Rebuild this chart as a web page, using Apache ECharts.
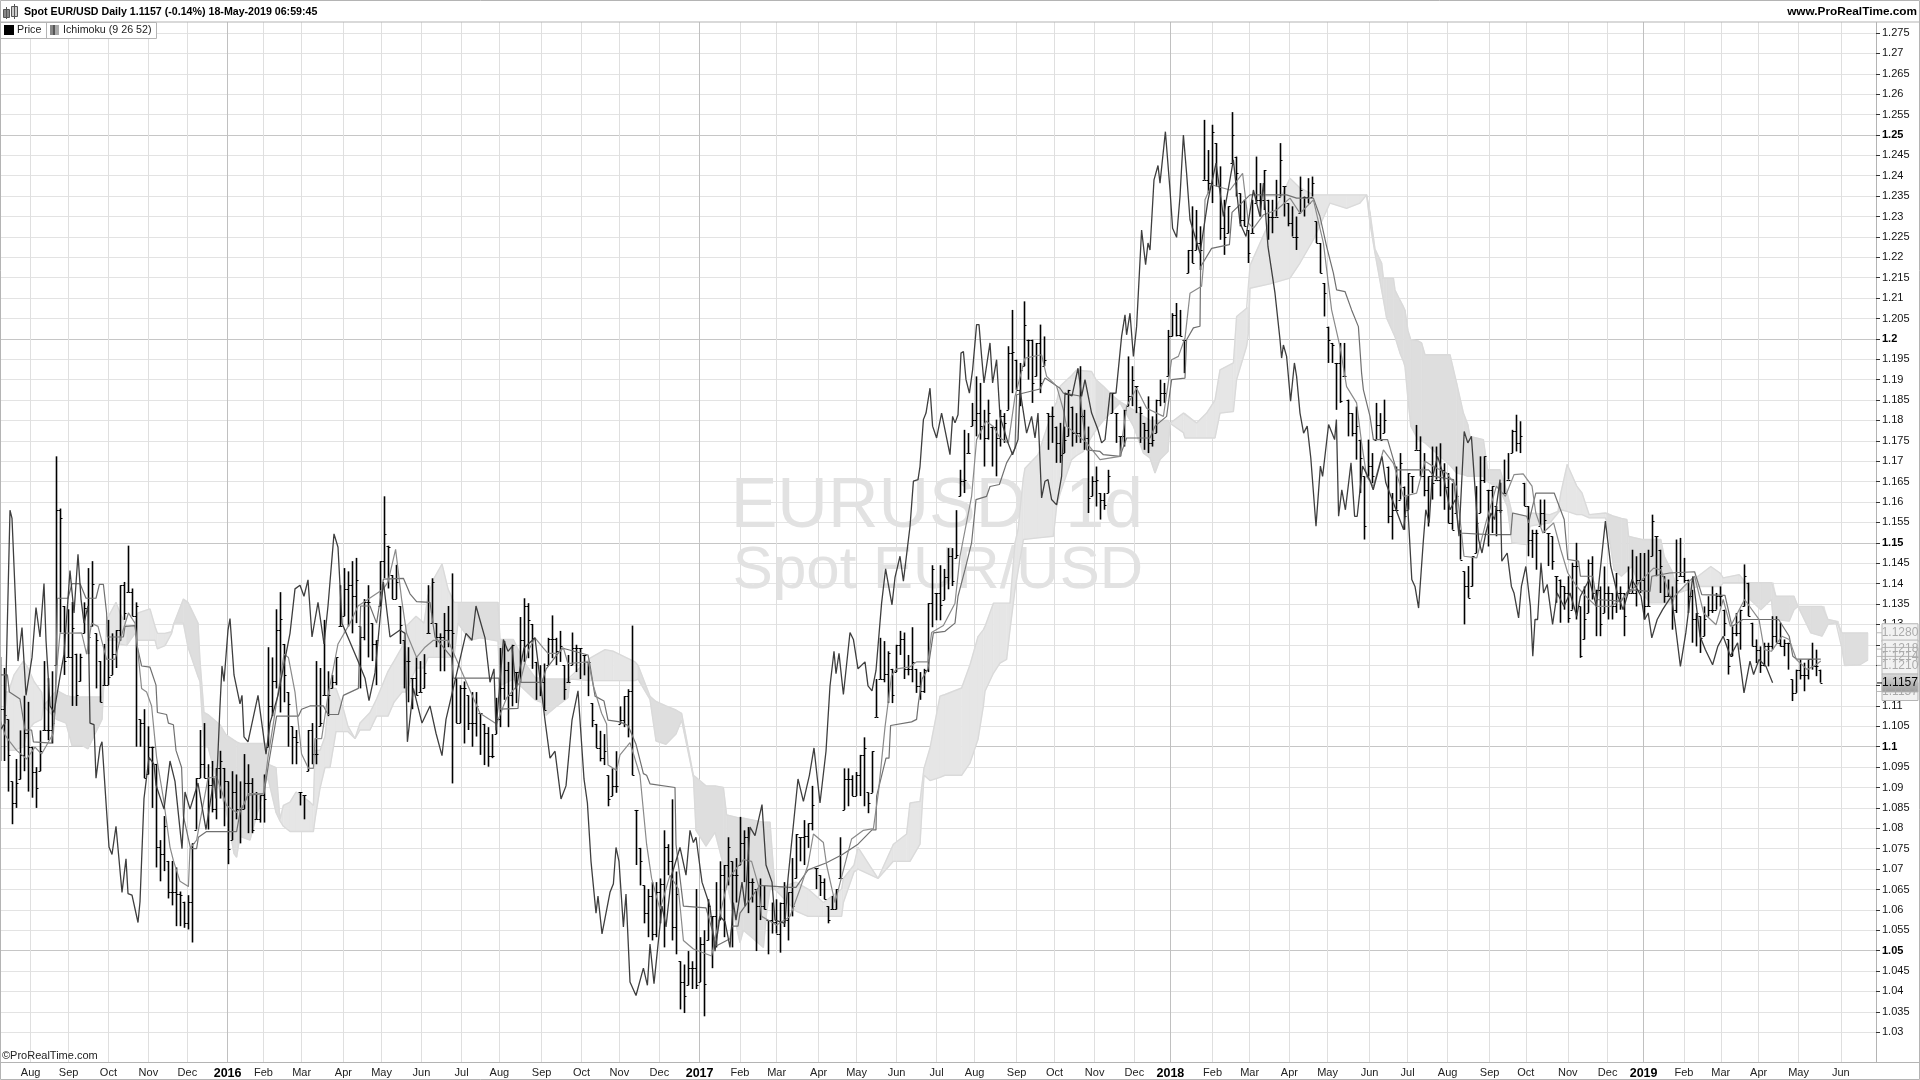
<!DOCTYPE html>
<html><head><meta charset="utf-8"><style>html,body{margin:0;padding:0;background:#fff}#c{width:1920px;height:1080px}</style>
<script src="https://cdn.jsdelivr.net/npm/echarts@6/dist/echarts.min.js"></script></head><body><div id="c"></div>
<script>
// Prices are in pips above 1.0000; x is the session number on the time axis.
const monthNames=['Aug','Sep','Oct','Nov','Dec','2016','Feb','Mar','Apr','May','Jun','Jul','Aug','Sep','Oct','Nov','Dec','2017','Feb','Mar','Apr','May','Jun','Jul','Aug','Sep','Oct','Nov','Dec','2018','Feb','Mar','Apr','May','Jun','Jul','Aug','Sep','Oct','Nov','Dec','2019','Feb','Mar','Apr','May','Jun'];
const monthSessions=[15.3,34.3,54.2,74.2,93.7,113.8,131.7,150.8,171.7,190.8,210.7,230.8,249.7,270.8,290.8,309.7,329.7,349.8,370,388.3,409.3,428.3,448.3,468.3,487.3,508.3,527.3,547.3,567.2,585.2,606.3,624.8,644.7,663.8,684.8,703.8,723.8,744.8,762.9,783.9,803.8,821.8,842,860.4,879.3,899.3,920.4];
const priceBarSessionStep=2;
// high,low pairs
const barHighLow=[1220,965,1193,965,1067,890,915,810,970,850,1040,920,1125,940,1110,890,1000,875,950,850,1040,940,1210,1040,1168,1016,1185,1008,1712,1200,1584,1280,1345,1176,1337,1220,1355,1100,1228,1100,1228,1160,1354,1278,1438,1227,1455,1295,1278,1143,1210,1109,1252,1151,1311,1151,1278,1176,1286,1193,1396,1260,1404,1311,1493,1379,1388,1320,1354,1000,1067,1000,1092,923,1050,932,1000,850,958,704,771,670,830,695,720,628,720,611,704,560,645,560,620,556,636,552,763,520,923,797,1041,923,1058,923,957,797,965,839,948,822,990,873,948,805,915,712,940,771,932,822,915,763,982,847,957,788,923,788,889,822,881,814,932,814,1244,1000,1219,1075,1337,1143,1379,1084,1252,1109,1134,1000,1050,957,1041,957,889,856,881,822,1041,940,1058,957,1210,957,1193,1050,1311,1126,1185,1075,1176,1143,1219,1151,1396,1295,1438,1320,1430,1295,1455,1278,1463,1303,1295,1143,1362,1261,1396,1219,1303,1210,1261,1151,1455,1345,1614,1413,1493,1388,1421,1362,1446,1362,1345,1252,1261,1143,1244,1109,1168,1092,1219,1126,1210,1134,1227,1143,1396,1278,1413,1303,1303,1244,1278,1185,1328,1185,1345,1244,1425,910,1168,1058,1151,1058,1160,1008,1126,1041,1134,1000,1134,1025,
1082,980,1056,955,1048,951,1031,972,1120,1031,1242,1048,1259,1115,1208,1048,1250,1099,1183,1107,1318,1158,1364,1208,1352,1217,1301,1191,1208,1115,1200,1124,1204,1090,1267,1200,1322,1217,1267,1200,1284,1208,1200,1115,1225,1158,1280,1200,1250,1183,1242,1166,1225,1175,1208,1124,1107,1048,1056,997,1039,964,1031,955,930,854,947,879,989,887,1099,1056,1124,1048,1141,1023,1297,930,845,710,752,660,660,567,651,533,668,525,668,533,677,567,795,508,761,685,871,525,694,491,474,356,466,347,499,415,474,406,651,406,533,423,550,339,626,525,584,457,668,508,719,575,710,533,778,660,719,508,727,618,828,710,795,668,803,592,677,618,651,499,677,575,660,601,575,491,618,542,626,542,618,495,668,558,643,525,727,584,786,677,778,719,820,710,812,752,904,795,702,651,685,634,677,626,609,567,634,601,651,601,778,677,947,845,947,854,930,879,938,879,980,879,1023,854,888,837,989,887,1166,1073,1267,1166,1259,1158,1234,1107,1191,1107,1250,1183,1284,1225,1280,1166,1225,1175,1293,1158,1191,1132,1183,1115,1191,1132,1352,1183,1445,1293,1377,1310,1445,1310,1436,1360,1487,1386,1487,1394,1580,1462,
1679,1614,1777,1622,1769,1720,1843,1786,1908,1761,1892,1753,1826,1687,1851,1753,1785,1687,1802,1663,1826,1736,1818,1745,1982,1826,2071,1867,1949,1875,1941,1835,2092,1933,1998,1900,1998,1843,1990,1908,2035,1867,2006,1933,1818,1728,1834,1745,1785,1696,1794,1696,1785,1720,1875,1761,1834,1736,1818,1745,1933,1745,1826,1728,1785,1573,1663,1614,1687,1589,1622,1557,1622,1581,1679,1622,1867,1818,1818,1745,1761,1712,1826,1736,1957,1835,1933,1835,1884,1818,1834,1745,1794,1728,1859,1720,1810,1736,1851,1769,1900,1835,1892,1843,2022,1908,2063,2006,2088,2006,2071,2006,1998,1916,2218,2161,2325,2186,2316,2218,2276,2169,2537,2390,2463,2357,2525,2333,2480,2374,2423,2243,2341,2206,2325,2259,2556,2431,2447,2349,2357,2276,2341,2276,2267,2186,2341,2259,2447,2333,2382,2300,2414,2316,2341,2243,2341,2259,2390,2300,2480,2349,2374,2300,2333,2276,2325,2251,2300,2218,2398,2308,2349,2300,2394,2333,2398,2349,2288,2235,2235,2161,2137,2055,2030,1941,1990,1941,1941,1826,1990,1843,1990,1908,1851,1761,1818,1761,1834,1704,1753,1622,1663,1508,1753,1663,1720,1646,1843,1753,1818,1753,1851,1769,1687,1548,1622,1508,1687,1581,1720,1606,1638,1532,1671,1581,1663,1622,1789,1728,1761,1663,1720,1614,1663,1540,1736,1606,1736,1655,1744,1614,1695,1581,1671,1548,1646,1532,1687,1573,1532,1459,
1430,1300,1443,1365,1467,1393,1639,1475,1712,1573,1712,1647,1630,1491,1639,1524,1590,1516,1647,1573,1704,1622,1720,1655,1777,1720,1814,1724,1798,1720,1647,1590,1590,1467,1532,1463,1532,1434,1606,1540,1606,1524,1524,1443,1516,1434,1418,1353,1410,1304,1393,1336,1418,1304,1451,1336,1500,1312,1344,1218,1393,1263,1459,1328,1467,1361,1385,1271,1393,1271,1442,1328,1393,1312,1377,1312,1426,1328,1393,1336,1377,1271,1442,1377,1483,1377,1467,1344,1475,1377,1475,1312,1483,1344,1569,1467,1516,1418,1483,1377,1418,1353,1410,1369,1393,1287,1508,1328,1512,1418,1463,1402,1410,1328,1385,1255,1328,1246,1320,1230,1344,1271,1369,1320,1393,1328,1377,1336,1393,1344,1336,1271,1263,1177,1295,1222,1328,1271,1336,1238,1447,1344,1402,1320,1304,1246,1263,1205,1246,1181,1255,1197,1255,1197,1320,1238,1320,1255,1304,1246,1263,1222,1255,1189,1165,1112,1189,1132,1214,1165,1206,1136,1214,1165,1255,1189,1238,1173,1189,1157];
const chikou=[[0,1041],[2.5,1058],[5,1580],[6,1560],[9,1210],[11,1292],[13,1126],[16,1219],[18,1341],[20,1269],[22,1400],[23,1261],[25,1100],[27,1084],[30,1172],[32,1227],[35,1432],[37,1328],[39,1472],[40.5,1362],[42,1303],[44,1345],[45,1058],[47,1054],[48,923],[50,999],[51,1012],[53,864],[54.5,754],[56,736],[58,805],[61,643],[63,725],[64,640],[66,636],[69,569],[70,620],[72,873],[74.5,974],[77,957],[78,906],[82,847],[85,965],[87.5,915],[91,750],[92.5,889],[95,847],[99,911],[103,797],[107,923],[108,873],[110,1100],[111,1198],[112,1160],[114,1286],[115,1314],[117,1176],[120,1105],[121,1126],[122,1024],[124,1012],[129,1126],[133,982],[135,1058],[139,1126],[145,1278],[147.5,1387],[150,1396],[152,1369],[154,1409],[156,1269],[159,1354],[162,1252],[164,1345],[167,1522],[169,1489],[171,1303],[179,1210],[182.5,1168],[184.5,1113],[187.5,1181],[188.7,1244],[191.7,1404],[195,1269],[200,1286],[202.5,1278],[203.7,1012],[206.7,1143],[211,1058],[215,1100],[218,1033],[221,978],[223,1067],[233,1278],[236,1261],[238,1345],[240,1310],[242.5,1267],[245,1158],[247,1191],[248,1040],[251.7,1263],[254,1234],[256,1246],[258,1141],[262,1242],[267.5,1267],[272.5,1065],[275,972],[277.5,989],[280.5,872],[283,904],[286,1065],[289,1137],[292,921],[293.7,862],[295.5,719],[298,592],[299,634],[301,541],[305,643],[306.7,664],[308,753],[309.5,719],[311.7,558],[313,639],[315,423],[318,390],[321.7,457],[323.7,415],[325,516],[327,419],[331,609],[333,558],[335.8,685],[340,753],[343,685],[345,795],[346.7,765],[348,778],[351,668],[355,609],[357.5,499],[360,584],[362.5,571],[365,508],[366.7,618],[368,575],[371,668],[372.5,609],[375,803],[377.5,782],[381,858],[383,710],[386,668],[387.5,575],[392.5,567],[394,677],[399,921],[401.7,866],[404.7,930],[407,997],[410,862],[413,989],[415,1149],[417,1234],[418,1179],[419.5,1229],[421.7,1128],[425,1280],[426.7,1263],[429,1191],[432.5,1208],[434,1149],[436,1137],[438,1187],[440.8,1352],[442.8,1436],[446,1348],[447.5,1415],[450,1467],[451.7,1406],[453.3,1471],[455,1540],[456.7,1651],[459,1655],[460,1687],[461.7,1802],[463,1818],[465,1879],[466.3,1786],[468.3,1757],[470.8,1818],[473.3,1757],[475,1716],[476.3,1810],[477.5,1794],[479,1814],[480.5,1965],[481.7,1969],[483,1900],[484.7,1867],[486.3,1924],[488.3,2035],[489.5,2035],[490.8,1957],[492,1892],[495,1990],[496.3,1892],[498.3,1949],[500,1810],[504,1745],[506.3,1716],[509,1753],[510,1875],[513.3,1769],[515.8,1810],[517.5,1757],[519,1818],[520.8,1610],[522.5,1651],[524,1655],[525.8,1606],[528.3,1593],[530.8,1663],[532.5,1867],[536,1860],[539,1928],[540.8,1859],[542.5,1900],[545.8,1818],[549,1777],[550.8,1745],[552.5,1753],[555,1867],[558,1867],[560.8,2006],[562.5,2059],[563.3,2010],[565,2063],[566.7,1957],[568.3,2030],[570.8,2267],[572.8,2182],[574,2235],[575,2218],[577,2390],[579,2425],[580,2382],[582.7,2508],[585,2365],[586.3,2271],[588.3,2249],[590,2349],[591.7,2500],[593.3,2406],[595,2292],[600,2210],[604,2340],[608,2431],[611.7,2300],[616.7,2439],[620,2284],[623,2251],[626.7,2365],[630,2300],[631.7,2382],[634,2226],[637.5,2112],[640,1998],[640.8,1953],[641.7,1985],[643.3,1957],[645.3,1847],[647.2,1941],[648.3,1908],[650,1818],[651.8,1769],[653.6,1786],[655.4,1708],[658,1541],[660.2,1688],[661.3,1663],[664.3,1790],[667.3,1753],[668.2,1802],[669.3,1565],[670.9,1630],[672.7,1581],[675.5,1696],[677.3,1565],[678.6,1565],[681.3,1688],[684.8,1655],[686.6,1630],[691,1712],[692.9,1647],[701.8,1532],[703.6,1614],[705.9,1410],[707.5,1393],[709.3,1340],[711.6,1500],[712.9,1581],[714.6,1549],[716,1655],[718.8,1712],[721.4,1671],[725,1581],[727.7,1606],[729.5,1516],[732.1,1773],[733.9,1745],[735.7,1761],[739.3,1508],[741,1475],[742.9,1524],[745.5,1573],[747.3,1557],[750,1655],[750.9,1455],[753.6,1475],[755.7,1393],[757,1377],[759.3,1316],[760.7,1393],[762.9,1442],[765.2,1344],[766.4,1222],[767.5,1312],[768.8,1312],[770.5,1451],[771.8,1377],[773.6,1398],[776.3,1300],[778.6,1377],[782,1344],[785,1377],[788.4,1320],[790.2,1369],[794.6,1410],[798.2,1344],[802.7,1553],[805.4,1442],[809,1369],[811.6,1336],[816,1410],[820.5,1369],[822.3,1312],[824.1,1328],[825.9,1267],[828.6,1312],[831.3,1336],[835.7,1369],[837.5,1304],[840.2,1197],[842.9,1279],[846.4,1418],[850,1271],[852.7,1238],[856.3,1201],[858.9,1246],[861.6,1271],[865.2,1222],[868.8,1255],[872,1132],[875,1210],[876.8,1177],[879.5,1214],[883,1197],[886.3,1157]];
const tenkan=[[0,1067],[2.5,1029],[5,1012],[8.3,991],[13.3,970],[17.5,999],[20.8,982],[26.7,1033],[28.7,1210],[30,1278],[40.8,1279],[43.3,1227],[45.8,1303],[49,1295],[53.3,1214],[57.5,1214],[60,1261],[64.2,1328],[67.5,1303],[70.8,1143],[73.3,1134],[75.8,1100],[78.3,974],[81.7,873],[85,754],[86.7,721],[90,670],[94.2,657],[95,750],[98.3,771],[104,923],[108.3,927],[113.3,856],[118.3,839],[121.7,856],[124.2,885],[131.7,885],[134,974],[136.7,1058],[142,1227],[144.2,1219],[147.5,1134],[150.8,982],[154.2,947],[156.7,947],[157.5,1020],[160.8,1020],[164,1126],[166.7,1193],[169,1252],[175,1303],[179,1345],[191.7,1387],[194,1404],[197.8,1484],[200.8,1362],[203.3,1278],[208.3,1219],[212.5,1244],[216.7,1261],[224,1261],[240,1082],[248.3,1056],[253.3,1120],[260,1158],[264,1234],[267.5,1267],[271.7,1242],[274,1229],[279,1229],[281.7,1242],[284,1204],[294.2,1208],[296.7,1149],[300.8,1082],[303.3,1056],[304,955],[308.3,942],[310,980],[315,1010],[320,930],[323.3,761],[325.8,677],[330,601],[335,685],[339.2,651],[341.7,525],[346.7,504],[355.8,487],[360,588],[364.2,677],[371.7,723],[375.8,719],[379.2,660],[380.8,584],[388.3,563],[395,584],[400,651],[404,710],[406.7,786],[411.7,765],[413.3,710],[417.5,618],[420.8,681],[425.8,774],[431.7,795],[436.7,799],[439.2,888],[442.5,1048],[445.8,1175],[448.3,1191],[455,1196],[458.3,1208],[464,1208],[465.8,1280],[471.7,1297],[477.5,1352],[480,1467],[485.8,1614],[488.3,1753],[493,1798],[496.7,1785],[500,1757],[504.2,1745],[507.5,1859],[512.5,1953],[520.8,1961],[523.3,1908],[528.3,1884],[531.7,1826],[533.3,1786],[543.3,1745],[550,1704],[560,1712],[563.3,1835],[568.3,1879],[573.3,1830],[581.7,1810],[585.8,1949],[589.2,1957],[592.5,2002],[595,2112],[600.8,2129],[601.7,2178],[602.5,2341],[605.8,2378],[615,2365],[621.3,2406],[624.2,2284],[626.7,2271],[631.7,2304],[638.3,2316],[645,2345],[650,2308],[656.7,2341],[661.7,2235],[665.8,2071],[670,1981],[673.3,1883],[678.3,1843],[680.8,1745],[683.3,1663],[686.7,1638],[691.7,1728],[696.7,1695],[701.7,1614],[708.3,1622],[712.5,1700],[716.7,1687],[723.3,1671],[728.3,1638],[732,1467],[738.4,1463],[742.9,1549],[748.2,1639],[752.7,1614],[757,1667],[761.6,1669],[766,1639],[767.9,1573],[771.4,1524],[776.8,1549],[780.4,1483],[783.9,1426],[788.4,1393],[792.9,1369],[798.2,1344],[805.4,1344],[810.7,1361],[816,1385],[826.8,1438],[830.4,1434],[835.7,1361],[842,1393],[847.3,1418],[851.8,1328],[858,1299],[861.6,1361],[865.2,1295],[872.3,1361],[879.5,1312],[882.1,1238],[885.7,1234],[891,1271],[894.6,1263],[898.2,1214],[903.6,1189],[908,1201],[910.4,1210]];
const kijun=[[0,1176],[3.7,1176],[4.7,1134],[10,1117],[12.5,1041],[15.8,1041],[16.7,1012],[25.8,1009],[27.5,1084],[28.7,1364],[34,1364],[36,1400],[40,1400],[43,1364],[48,1364],[49.7,1398],[51.7,1398],[53.3,1328],[53.7,1269],[61.7,1269],[62.5,1295],[67.5,1297],[68.7,1244],[70.8,1198],[75,1195],[78,1151],[78.7,1084],[83.3,1079],[84.2,1058],[86.7,1054],[88,991],[90.8,949],[91.7,830],[95.3,750],[98.3,750],[99.2,778],[103.3,792],[118.3,792],[120,839],[124,881],[132,885],[134,949],[138.3,1075],[149.2,1075],[150.8,1092],[155,1100],[161.7,1100],[164,1079],[169.2,1079],[171.7,1126],[179.2,1143],[180.3,1345],[185,1345],[188.3,1303],[191.7,1411],[201.7,1413],[205,1375],[208.3,1356],[215,1354],[216.7,1295],[217.5,1269],[225.8,1219],[226.7,1168],[249.5,1168],[250,1092],[259,1094],[260,1158],[271,1158],[273,1190],[281,1242],[294,1225],[295,1200],[297.5,1124],[302,1112],[304,1065],[310,1061],[314,1052],[318,1006],[321.7,934],[323.3,930],[325,909],[337.5,900],[338,760],[341.7,609],[353,605],[358.3,512],[365,529],[366,560],[369,560],[370,592],[380,660],[395,655],[398,655],[404,698],[413,715],[421,735],[429,761],[436,796],[438,796],[438.3,879],[443,972],[444.5,972],[445.3,1052],[455.8,1061],[458.3,1067],[459.2,1107],[461,1166],[464,1191],[466.7,1279],[472.5,1283],[477.5,1303],[479,1369],[482.5,1434],[485.8,1500],[488,1606],[493.3,1614],[495,1638],[499.7,1643],[503.3,1696],[507.5,1732],[508.3,1863],[520,1877],[522.5,1904],[530,1879],[531.7,1867],[540,1860],[543.3,1728],[550,1724],[551.7,1716],[560,1712],[563.3,1757],[575,1757],[577.5,1786],[583.3,1810],[585.8,1900],[592.5,1904],[593.3,1998],[596.7,2027],[600,2031],[600.3,2177],[605.8,2222],[614.7,2231],[616,2310],[625,2353],[643.3,2353],[648.3,2345],[656.7,2345],[660,2300],[663.3,2227],[666.7,2161],[668.3,2120],[672.5,2116],[675.8,2071],[679.2,2030],[680.8,1916],[681.7,1875],[685,1810],[686.7,1753],[693.8,1753],[698.2,1679],[714.3,1679],[717,1663],[726.8,1655],[729.5,1524],[744.6,1520],[755.4,1520],[756.3,1573],[763.4,1565],[764.3,1549],[767.9,1622],[777.1,1622],[782.1,1557],[783.9,1459],[789.3,1455],[790.2,1418],[796.4,1418],[798.2,1361],[810.7,1357],[814.3,1385],[825,1381],[825.9,1418],[834.8,1426],[847.3,1429],[850.9,1373],[862.5,1371],[866,1295],[871.4,1312],[889.3,1312],[894.6,1271],[896.4,1222],[898.2,1215],[910.4,1215]];
// cloud outline: [session, upper span, lower span]
const cloudSpans=[[2.5,1134,1058],[4.2,1134,991],[7,1176,991],[11.7,1210,1000],[14,1193,1041],[17,1160,1058],[20.8,1134,1067],[21.7,1100,1100],[28.3,1138,1067],[33,1126,1058],[36,1122,1003],[41,1122,1003],[44,1122,995],[46,1122,1016],[51,1122,1067],[52.5,1210,1210],[53.3,1311,1261],[58,1354,1261],[60,1328,1252],[63.3,1295,1248],[67.5,1297,1278],[69,1328,1261],[75,1338,1261],[77.5,1295,1261],[78.7,1278,1240],[82.5,1278,1248],[85.8,1282,1278],[87,1303,1303],[91.7,1362,1303],[94,1354,1244],[99,1303,1172],[100,1210,1160],[102,1084,1000],[104,1079,1000],[110,1054,889],[113,1029,847],[117,1016,738],[118.3,1012,729],[120,1008,780],[125,1008,771],[133,1008,915],[134,957,923],[138,949,839],[140,822,818],[141.7,856,805],[145,864,792],[148,889,792],[155,864,792],[156.7,856,792],[157.5,991,822],[160,991,898],[162.5,1025,949],[165,1143,949],[168,1143,1037],[171.7,1092,1037],[174,1050,1037],[177.5,1020,1020],[180,1058,1041],[185,1084,1041],[188.3,1117,1075],[194,1185,1075],[197,1210,1109],[201,1244,1134],[203,1295,1134],[208,1320,1193],[212,1303,1193],[214,1371,1219],[217,1413,1219],[221,1448,1219],[224,1387,1219],[227,1354,1219],[229,1354,1303],[235,1354,1261],[240,1354,1267],[249,1354,1259],[250,1263,1149],[256.7,1263,1166],[262,1208,1141],[267.5,1170,1115],[271.7,1166,1107],[273,1166,1077],[278,1166,1098],[284,1166,1120],[285,1166,1166],[295,1217,1162],[302.5,1238,1162],[306.7,1234,1162],[317.5,1208,1162],[319,1200,1166],[325,1124,1116],[328,1111,1014],[333,1100,1006],[338,1090,1031],[340.8,1082,1065],[346.7,930,925],[348,925,795],[353,904,756],[357.5,904,790],[361.7,900,710],[363.3,833,668],[370,825,520],[371.7,825,550],[381.7,815,508],[383.3,815,592],[385,815,650],[387.5,650,650],[398,668,597],[404,651,584],[411.7,618,584],[420.8,651,584],[421.7,677,618],[427,710,693],[429,753,700],[439,677,677],[446.7,761,719],[453.3,786,719],[455,862,719],[460,866,761],[462,947,930],[465,997,917],[470,1124,925],[472.5,1128,930],[480.8,1144,930],[485,1201,960],[489,1270,1018],[491.7,1287,1100],[492.5,1295,1136],[496.7,1352,1180],[500,1352,1205],[503.3,1352,1214],[505,1352,1287],[507.5,1500,1385],[509,1532,1430],[511.7,1660,1508],[512.5,1683,1510],[519,1716,1512],[526.7,1830,1516],[528.3,1845,1589],[530,1884,1620],[535.8,1910,1704],[538.3,1924,1714],[541.7,1922,1724],[545.8,1920,1760],[548,1900,1777],[551.7,1884,1800],[556.7,1859,1826],[560,1846,1843],[566.7,1826,1786],[571.7,1810,1720],[575,1800,1708],[577.5,1800,1671],[580,1800,1704],[584,1800,1724],[585,1793,1793],[591.7,1818,1770],[592.5,1818,1757],[598.3,1794,1757],[603.3,1818,1757],[607.5,1850,1757],[610,1924,1818],[616.7,1941,1822],[618.3,2055,1900],[623.3,2075,1982],[624.2,2079,2014],[625,2180,2124],[635,2290,2135],[645,2394,2149],[650,2370,2186],[656.7,2353,2243],[665,2353,2333],[673.3,2353,2320],[680,2353,2333],[683.3,2353,2353],[685,2310,2284],[687.5,2220,2210],[690.8,2186,2120],[691.7,2149,2096],[693.3,2149,2051],[696.7,2149,2014],[697.5,2120,2005],[700,2095,1965],[701.7,2079,1945],[702.5,2070,1932],[704,2020,1851],[705.4,1998,1786],[709,1995,1753],[710.8,1990,1750],[712.5,1961,1745],[725,1961,1690],[728.3,1892,1671],[731.7,1818,1667],[733.9,1790,1663],[735,1761,1663],[741.7,1753,1663],[743.8,1679,1650],[750,1679,1630],[753.6,1622,1590],[756,1573,1500],[763.4,1565,1496],[765,1573,1541],[775,1569,1549],[779,1577,1573],[780.4,1622,1581],[783.6,1692,1577],[788.4,1639,1569],[791,1622,1569],[794.6,1569,1561],[802.7,1573,1561],[803.6,1573,1549],[807,1565,1434],[810.7,1560,1418],[813.4,1557,1430],[814.3,1516,1435],[816,1514,1442],[821,1508,1377],[825,1508,1353],[830.4,1508,1353],[832.1,1467,1353],[836,1430,1353],[839,1377,1377],[849,1418,1393],[855.4,1442,1393],[860,1426,1393],[861.6,1414,1402],[869.6,1422,1402],[873,1402,1402],[875,1402,1361],[880.4,1402,1336],[885.7,1402,1361],[886.6,1402,1312],[888,1369,1312],[894.6,1369,1308],[897,1369,1336],[899,1344,1344],[905.4,1344,1279],[911,1344,1271],[912,1344,1280],[914,1312,1300],[918,1308,1304],[919,1308,1300],[921,1279,1240],[922.3,1279,1199],[930,1279,1201],[934,1279,1213]];
const darkCloudRanges=[[22,52],[63,68],[87,140],[229,285],[319,387.5],[548,585],[683.3,756],[803,839],[873,934]];
const priceTags=[['1.1157',1.1136,'#eee'],['1.1280',1.1280,'#eee'],['1.1218',1.1240,'#eee'],['1.1214',1.1222,'#eee'],['1.1210',1.1200,'#eee'],['1.1157',1.1157,'dark']];

const toPrice=v=>1+v/10000, pts=a=>a.map(d=>[d[0],toPrice(d[1])]);
const TOP=12.6,H=1060.8;
const bars=[];
for(let k=0;k<barHighLow.length/2;k++){bars.push({h:barHighLow[2*k],l:barHighLow[2*k+1],u:k*priceBarSessionStep});}
// closes are read back from the lagging span, which is the close plotted 24 sessions earlier
function closeOf(u){let best=null,bd=1e9;for(const c of chikou){const d=Math.abs(c[0]-(u-24));if(d<bd){bd=d;best=c[1];}}return bd<3?best:null;}
let prev=null;
const barData=bars.map(b=>{let c=closeOf(b.u);c=c==null?(b.h+b.l)/2:Math.min(b.h,Math.max(b.l,c));let o=prev==null?c:Math.min(b.h,Math.max(b.l,prev));prev=c;return [b.u,toPrice(b.h),toPrice(b.l),toPrice(o),toPrice(c)];});
const isDark=u=>darkCloudRanges.some(r=>u>=r[0]&&u<r[1]);
const cloudData=cloudSpans.slice(0,-1).map((d,i)=>[d[0],toPrice(d[1]),toPrice(d[2]),i]);

const minP=1.02,maxP=1.28,step=0.005;
const yTicks=[],yColors=[];
for(let k=206;k<=255;k++){yColors.push(k%10===0?'#c6c6c6':'#e3e3e3');yTicks.push(+(k*step).toFixed(3));}
const line=(name,data,color,w,z)=>({name,type:'line',data:pts(data),symbol:'none',lineStyle:{color,width:w},z,silent:true,animation:false});
const chart=echarts.init(document.getElementById('c'),null,{renderer:'canvas'});
const tagGraphics=[];
const yOf=p=>135+(1.25-p)*4080;
priceTags.forEach(t=>{const y=yOf(t[1]),dark=t[2]==='dark';
 tagGraphics.push({type:'rect',z:10,shape:{x:1882,y:y-9,width:36,height:18},style:{fill:dark?new echarts.graphic.LinearGradient(0,0,0,1,[{offset:0,color:'#dcdcdc'},{offset:1,color:'#999'}]):'#f2f2f2',stroke:'#b5b5b5',lineWidth:1}});
 tagGraphics.push({type:'text',z:11,style:{x:1900,y:y,text:t[0],fill:dark?'#000':'#aaa',font:'12px "Liberation Sans"',textAlign:'center',textVerticalAlign:'middle'}});
 tagGraphics.push({type:'rect',z:10,shape:{x:1877,y:y-0.5,width:5,height:1},style:{fill:dark?'#000':'#bbb'}});
});
const T=(x,y,text,font,fill,align)=>({type:'text',z:6,style:{x,y,text,font,fill:fill||'#000',textAlign:align||'left',textVerticalAlign:'middle'}});
const R=(x,y,w,h,fill,stroke)=>({type:'rect',z:6,shape:{x,y,width:w,height:h},style:{fill:fill||'none',stroke:stroke||null,lineWidth:1}});
const graphics=[
 {type:'text',z:0.5,style:{x:1143,y:508,text:'EURUSD, 1d',font:'70px "Liberation Sans"',fill:'#e2e2e2',textAlign:'right',textVerticalAlign:'middle'}},
 {type:'text',z:0.5,style:{x:1143,y:571,text:'Spot EUR/USD',font:'60px "Liberation Sans"',fill:'#e2e2e2',textAlign:'right',textVerticalAlign:'middle'}},
 {type:'rect',z:1,shape:{x:0,y:0,width:1920,height:22},style:{fill:'#fff'}},
 {type:'rect',z:1,shape:{x:0,y:1062,width:1920,height:18},style:{fill:'#fff'}},
 R(0.5,0.5,1919,1079,null,'#b4b4b4'),
 {type:'rect',z:6,shape:{x:0,y:21.5,width:1920,height:1},style:{fill:'#b4b4b4'}},
 {type:'rect',z:6,shape:{x:0,y:1062,width:1920,height:1},style:{fill:'#b4b4b4'}},
 R(3.5,9.5,6,8,'#888','#555'),{type:'rect',z:6,shape:{x:6,y:7,width:1,height:12},style:{fill:'#555'}},
 R(11.5,6.5,6,10,'#ccc','#555'),{type:'rect',z:6,shape:{x:14,y:4,width:1,height:15},style:{fill:'#555'}},
 T(24,12,'Spot EUR/USD Daily 1.1157 (-0.14%) 18-May-2019 06:59:45','bold 10.65px "Liberation Sans"'),
 T(1917,12,'www.ProRealTime.com','bold 11.8px "Liberation Sans"','#000','right'),
 R(0.5,22.5,156,16,'#fff','#b4b4b4'),{type:'rect',z:6,shape:{x:46,y:22,width:1,height:16},style:{fill:'#b4b4b4'}},
 R(4,25,10,10,'#000'),T(17,30.5,'Price','10.7px "Liberation Sans"','#222'),
 R(50,25,3,10,'#888'),R(53,25,2,10,'#555'),R(55,25,4,10,'#aaa'),
 T(63,30.5,'Ichimoku (9 26 52)','10.7px "Liberation Sans"','#222'),
 T(2,1056,'©ProRealTime.com','11px "Liberation Sans"','#222')
].concat(tagGraphics);

chart.setOption({
 animation:false,backgroundColor:'#fff',
 grid:{left:0,top:TOP,width:1876,height:H,containLabel:false},
 xAxis:{type:'value',min:0,max:938,z:3,splitLine:{show:false},axisLine:{show:false,onZero:false},axisTick:{show:false},
  axisLabel:{customValues:monthSessions,margin:-6,fontFamily:'Liberation Sans',fontSize:11,color:'#222',
   formatter:v=>{const n=monthNames[monthSessions.indexOf(v)];return /^\d{4}$/.test(n)?'{y|'+n+'}':n;},
   rich:{y:{fontFamily:'Liberation Sans',fontSize:12.5,fontWeight:'bold',color:'#000'}}}},
 yAxis:{type:'value',position:'right',min:minP,max:maxP,interval:step,
  axisLine:{show:true,onZero:false,lineStyle:{color:'#b4b4b4'}},
  axisTick:{show:true,customValues:yTicks,length:4,lineStyle:{color:'#333'}},
  splitLine:{show:true,lineStyle:{color:yColors,width:1}},
  axisLabel:{customValues:yTicks,margin:6,fontFamily:'Liberation Sans',fontSize:11,color:'#111',
   formatter:v=>{const s=String(+(+v).toFixed(3));return Math.round(v*1000)%50===0?'{b|'+s+'}':s;},
   rich:{b:{fontFamily:'Liberation Sans',fontSize:11,fontWeight:'bold',color:'#000'}}}},
 graphic:graphics,
 series:[
  {name:'months',type:'line',data:[],z:0,silent:true,markLine:{z:0,silent:true,symbol:'none',animation:false,label:{show:false},
    data:monthSessions.map((v,i)=>({xAxis:v,lineStyle:{type:'solid',width:1,color:/^\d{4}$/.test(monthNames[i])?'#c0c0c0':'#dfdfdf'}}))}},
  {name:'Cloud',type:'custom',z:1.5,silent:true,animation:false,clip:true,data:cloudData,encode:{x:0,y:[1,2]},
   renderItem:(p,api)=>{const i=api.value(3),a=cloudSpans[i],b=cloudSpans[i+1];
    const q=[[a[0],a[1]],[b[0],b[1]],[b[0],b[2]],[a[0],a[2]]].map(d=>api.coord([d[0],toPrice(d[1])]));
    const c=isDark(a[0])?'#dedede':'#e6e6e6';
    return {type:'polygon',shape:{points:q},style:{fill:c,stroke:c,lineWidth:0.6}};}},
  line('Senkou A',cloudSpans.map(d=>[d[0],d[1]]),'#dadada',1.4,1.6),
  line('Senkou B',cloudSpans.map(d=>[d[0],d[2]]),'#dadada',1.4,1.6),
  {name:'Price',type:'custom',z:3,silent:true,animation:false,data:barData,encode:{x:0,y:[1,2]},
   renderItem:(p,api)=>{const u=api.value(0),top=api.coord([u,api.value(1)]),bot=api.coord([u,api.value(2)]),o=api.coord([u,api.value(3)]),c=api.coord([u,api.value(4)]);
    const x=top[0]+0.5,st={stroke:'#000',lineWidth:1.6};
    return {type:'group',children:[
     {type:'line',shape:{x1:x,y1:top[1],x2:x,y2:bot[1]},style:st},
     {type:'line',shape:{x1:x-2,y1:Math.round(o[1])+.5,x2:x,y2:Math.round(o[1])+.5},style:{stroke:'#000',lineWidth:1}},
     {type:'line',shape:{x1:x,y1:Math.round(c[1])+.5,x2:x+2,y2:Math.round(c[1])+.5},style:{stroke:'#000',lineWidth:1}}]};}},
  line('Kijun',kijun,'#707070',1.2,4),
  line('Tenkan',tenkan,'#8a8a8a',1.2,4),
  line('Chikou',chikou,'#3e3e3e',1.3,5)
 ]
});
</script></body></html>
